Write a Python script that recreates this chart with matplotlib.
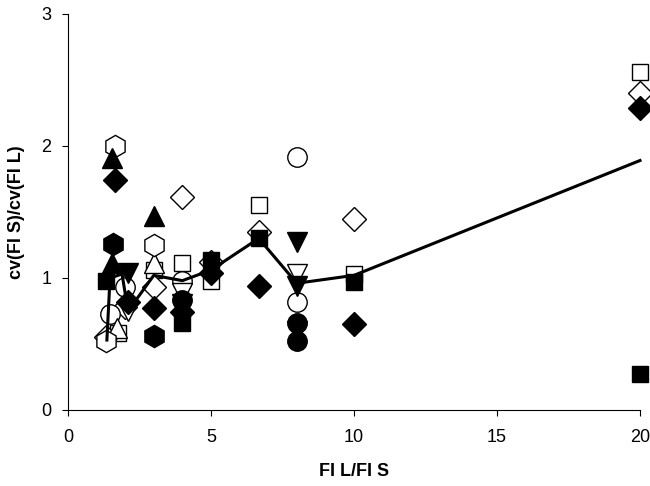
import matplotlib
matplotlib.use('Agg')
import matplotlib.pyplot as plt

plt.rcParams['font.family'] = ['Liberation Sans', 'DejaVu Sans']

# series: (marker, filled, x, y)
fd_x = [1.65, 2.1, 3, 4, 5, 6.67, 10, 20]
fd_y = [1.74, 0.82, 0.77, 0.74, 1.04, 0.94, 0.65, 2.29]
od_x = [1.33, 2.0, 3, 4, 5, 6.67, 10, 20]
od_y = [0.55, 0.78, 0.93, 1.61, 1.12, 1.35, 1.45, 2.40]
os_x = [1.75, 3, 4, 5, 6.67, 10, 20]
os_y = [0.58, 1.06, 1.11, 0.98, 1.55, 1.03, 2.56]
fs_x = [1.33, 4, 5, 6.67, 10, 20]
fs_y = [0.98, 0.66, 1.14, 1.30, 0.97, 0.27]
ftu_x = [1.55, 1.55, 3]
ftu_y = [1.91, 1.11, 1.47]
otu_x = [3, 1.7]
otu_y = [1.11, 0.62]
ftd_x = [2.1, 4, 8, 8]
ftd_y = [1.04, 0.80, 1.27, 0.94]
otd_x = [2.1, 4, 8, 8]
otd_y = [0.75, 0.89, 1.03, 0.60]
oc_x = [1.47, 2.0, 4, 8, 8]
oc_y = [0.73, 0.93, 0.98, 1.92, 0.82]
fc_x = [4, 8, 8]
fc_y = [0.83, 0.66, 0.52]
fh_x = [1.58, 3]
fh_y = [1.26, 0.56]
oh_x = [1.64, 3, 1.33]
oh_y = [2.0, 1.25, 0.52]

# mean line
line_x = [1.36, 1.47, 1.89, 2.1, 3, 4, 5, 6.67, 8, 10, 20]
line_y = [0.53, 1.0, 1.03, 0.75, 1.02, 0.98, 1.06, 1.30, 0.96, 1.02, 1.89]

series = [
    ('s', False, os_x, os_y, 12),
    ('D', False, od_x, od_y, 12),
    ('o', False, oc_x, oc_y, 14),
    ('^', False, otu_x, otu_y, 14),
    ('v', False, otd_x, otd_y, 14),
    ('h', False, oh_x, oh_y, 16),
    ('s', True, fs_x, fs_y, 12),
    ('D', True, fd_x, fd_y, 12),
    ('o', True, fc_x, fc_y, 14),
    ('^', True, ftu_x, ftu_y, 14),
    ('v', True, ftd_x, ftd_y, 14),
    ('h', True, fh_x, fh_y, 16),
]

fig = plt.figure(figsize=(6.5, 4.86), dpi=100)
ax = fig.add_axes([0.1046, 0.1564, 0.88, 0.8148])

for m, filled, xs, ys, ms in series:
    ax.plot(xs, ys, ls='none', marker=m, ms=ms, mec='k', mew=1.0,
            mfc='k' if filled else 'white', zorder=2, clip_on=False)

ax.plot(line_x, line_y, color='k', lw=2.2, zorder=3, clip_on=False)

ax.set_xlim(0, 20)
ax.set_ylim(0, 3)
ax.set_xticks([0, 5, 10, 15, 20])
ax.set_yticks([0, 1, 2, 3])
ax.spines['top'].set_visible(False)
ax.spines['right'].set_visible(False)
ax.spines['left'].set_linewidth(0.8)
ax.spines['bottom'].set_linewidth(0.8)
ax.tick_params(direction='out', length=4, width=0.8, labelsize=13)
ax.tick_params(axis='x', pad=10)
ax.tick_params(axis='y', pad=8)
ax.set_xlabel('FI L/FI S', fontsize=13, fontweight='bold', labelpad=12)
ax.set_ylabel('cv(FI S)/cv(FI L)', fontsize=13, fontweight='bold', labelpad=12)

fig.savefig('out.png', dpi=100)
